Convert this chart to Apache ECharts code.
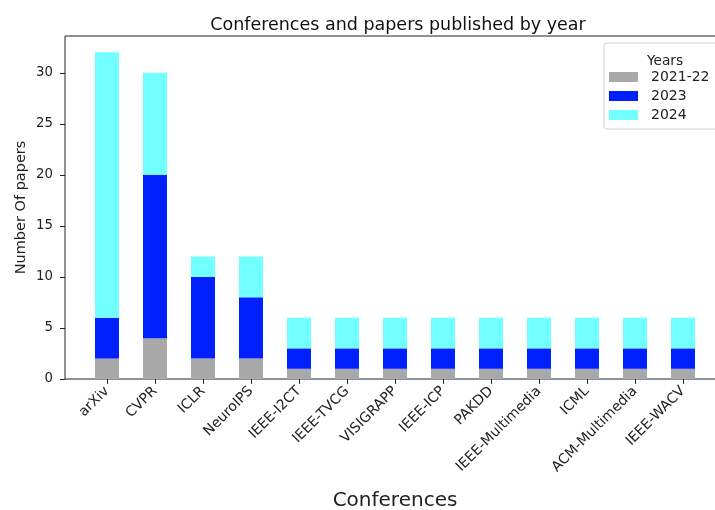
<!DOCTYPE html>
<html>
<head>
<meta charset="utf-8">
<script src="https://cdn.jsdelivr.net/npm/echarts@6/dist/echarts.min.js"></script>
<style>html,body{margin:0;padding:0;background:#fff;}#c{width:715px;height:510px;}</style>
</head>
<body>
<div id="c"></div>
<script>
const categories = ['arXiv','CVPR','ICLR','NeuroIPS','IEEE-I2CT','IEEE-TVCG','VISIGRAPP','IEEE-ICP','PAKDD','IEEE-Multimedia','ICML','ACM-Multimedia','IEEE-WACV'];
const years = ['2021-22','2023','2024'];
const v2021_22 = [2,4,2,2,1,1,1,1,1,1,1,1,1];
const v2023 = [4,16,8,6,2,2,2,2,2,2,2,2,2];
const v2024 = [26,10,2,4,3,3,3,3,3,3,3,3,3];
const yTicks = [0,5,10,15,20,25,30];
const colors = ['#a9a9a9','#0020ff','#72ffff'];
const FONT = 'DejaVu Sans';

const chart = echarts.init(document.getElementById('c'));
const seriesData = [v2021_22, v2023, v2024];
chart.setOption({
  animation: false,
  textStyle: {fontFamily: FONT},
  title: [
    {text: 'Conferences and papers published by year', left: 393, top: 11, textAlign: 'center',
     textStyle: {fontFamily: FONT, fontSize: 17.5, fontWeight: 'normal', color: '#111'}},
    {text: 'Years', left: 660, top: 49, textAlign: 'center',
     textStyle: {fontFamily: FONT, fontSize: 13.7, fontWeight: 'normal', color: '#222'}}
  ],
  legend: {
    orient: 'vertical', left: 604, top: 43,
    padding: [27, 12, 7, 5],
    itemWidth: 29, itemHeight: 10, itemGap: 5,
    borderColor: '#d0d0d0', borderWidth: 1, borderRadius: 3,
    backgroundColor: 'rgba(255,255,255,0.85)',
    textStyle: {fontFamily: FONT, fontSize: 14, color: '#222', padding: [0, 0, 0, 8]},
    data: years,
    icon: 'rect'
  },
  grid: [
    {left: 65, top: 36, width: 680, height: 343, show: true, borderColor: '#222', borderWidth: 1, backgroundColor: 'transparent', containLabel: false, outerBoundsMode: 'none'},
    {left: 83, top: 36, width: 624, height: 343, containLabel: false, outerBoundsMode: 'none'}
  ],
  xAxis: [
    {type: 'value', gridIndex: 0, show: false, min: 0, max: 1},
    {type: 'category', gridIndex: 1, data: categories,
     name: 'Conferences', nameLocation: 'middle', nameGap: 112, nameMoveOverlap: false,
     nameTextStyle: {fontFamily: FONT, fontSize: 20, color: '#222'},
     axisLine: {show: false},
     axisTick: {show: true, alignWithLabel: true, length: 5, lineStyle: {color: '#222'}},
     axisLabel: {rotate: 45, fontFamily: FONT, fontSize: 14, color: '#222', margin: 10, interval: 0},
     splitLine: {show: false}}
  ],
  yAxis: [
    {type: 'value', gridIndex: 0, min: 0, max: 33.6,
     name: 'Number Of papers', nameLocation: 'middle', nameGap: 36, nameMoveOverlap: false,
     nameTextStyle: {fontFamily: FONT, fontSize: 14.5, color: '#222'},
     axisLine: {show: false},
     axisTick: {show: true, length: 5, lineStyle: {color: '#222'}, customValues: yTicks},
     axisLabel: {fontFamily: FONT, fontSize: 13.3, color: '#222', margin: 12, customValues: yTicks},
     splitLine: {show: false}},
    {type: 'value', gridIndex: 1, min: 0, max: 33.6, show: false, splitLine: {show: false}}
  ],
  series: years.map((y, i) => ({
    name: y, type: 'bar', stack: 'total', xAxisIndex: 1, yAxisIndex: 1,
    barWidth: '50%', data: seriesData[i], itemStyle: {color: colors[i]}
  }))
});
</script>
</body>
</html>
